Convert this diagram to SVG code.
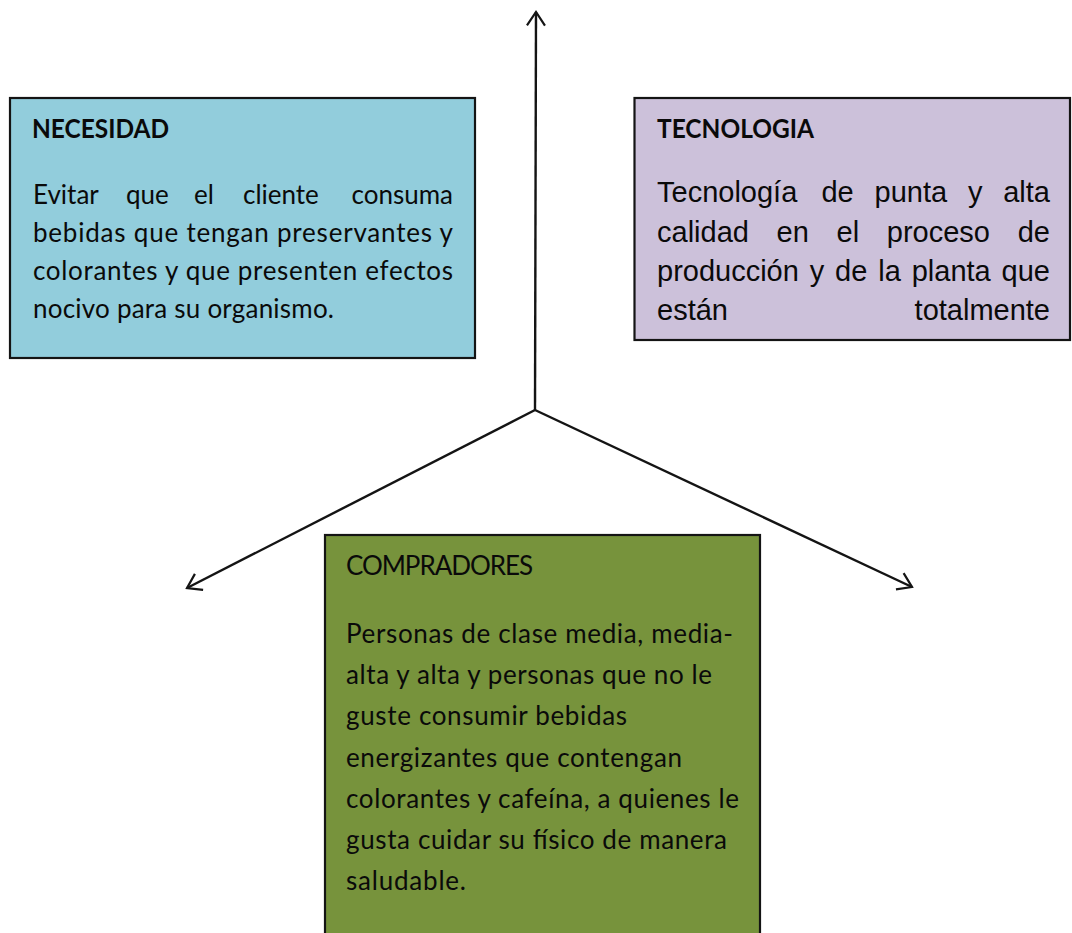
<svg xmlns="http://www.w3.org/2000/svg" width="1072" height="933" viewBox="0 0 1072 933">
<style>
.box{stroke:#141414;stroke-width:2.2}
.cal{font-family:Lato,"Open Sans","Liberation Sans",sans-serif;font-size:26px;fill:#0a0a0a}
.calb{font-family:Lato,"Open Sans","Liberation Sans",sans-serif;font-size:26px;font-weight:bold;fill:#0a0a0a}
.ari{font-family:"Liberation Sans",Arial,sans-serif;font-size:29px;fill:#0a0a0a}
.con{stroke:#141414;stroke-width:2.4;fill:none}
</style>
<defs>
<marker id="arr" markerUnits="userSpaceOnUse" markerWidth="20" markerHeight="24" viewBox="-16 -12 20 24" refX="0" refY="0" orient="auto">
<path d="M-13.5,-9 L0,0 L-13.5,9" fill="none" stroke="#141414" stroke-width="2.2"/>
</marker>
</defs>
<rect width="1072" height="933" fill="#ffffff"/>
<g id="connectors">
<line class="con" x1="535" y1="410" x2="536" y2="12" marker-end="url(#arr)"/>
<line class="con" x1="535" y1="410" x2="187" y2="588" marker-end="url(#arr)"/>
<line class="con" x1="535" y1="410" x2="912" y2="587" marker-end="url(#arr)"/>
</g>
<g id="necesidad">
<rect class="box" x="10" y="98" width="465" height="260" fill="#92CDDC"/>
<text class="calb" x="32" y="138" textLength="137" lengthAdjust="spacingAndGlyphs">NECESIDAD</text>
<text class="cal" y="204"><tspan x="33">Evitar</tspan><tspan x="126">que</tspan><tspan x="194">el</tspan><tspan x="243">cliente</tspan></text>
<text class="cal" x="453" y="204" text-anchor="end">consuma</text>
<text class="cal" x="33" y="242" textLength="420" lengthAdjust="spacing">bebidas que tengan preservantes y</text>
<text class="cal" x="33" y="280" textLength="420" lengthAdjust="spacing">colorantes y que presenten efectos</text>
<text class="cal" x="33" y="318" textLength="301" lengthAdjust="spacing">nocivo para su organismo.</text>
</g>
<g id="tecnologia">
<rect class="box" x="634.5" y="98" width="435.5" height="242" fill="#CCC1DA"/>
<text class="calb" x="657" y="138" textLength="157" lengthAdjust="spacingAndGlyphs">TECNOLOGIA</text>
<text class="ari" y="202"><tspan x="657">Tecnología</tspan><tspan x="821.4">de</tspan><tspan x="874.5">punta</tspan><tspan x="968">y</tspan></text>
<text class="ari" x="1050" y="202" text-anchor="end">alta</text>
<text class="ari" y="242"><tspan x="657">calidad</tspan><tspan x="776.6">en</tspan><tspan x="836.5">el</tspan><tspan x="886.8">proceso</tspan></text>
<text class="ari" x="1050" y="242" text-anchor="end">de</text>
<text class="ari" y="281"><tspan x="657">producción</tspan><tspan x="809.7">y</tspan><tspan x="835.1">de</tspan><tspan x="878.2">la</tspan><tspan x="911.7">planta</tspan></text>
<text class="ari" x="1050" y="281" text-anchor="end">que</text>
<text class="ari" x="657" y="320">están</text>
<text class="ari" x="1050" y="320" text-anchor="end">totalmente</text>
</g>
<g id="compradores">
<rect class="box" x="325" y="535" width="435" height="410" fill="#77933C"/>
<text class="cal" x="346" y="575" textLength="187" lengthAdjust="spacing">COMPRADORES</text>
<text class="cal" x="346" y="643" textLength="387" lengthAdjust="spacing">Personas de clase media, media-</text>
<text class="cal" x="346" y="684" textLength="366" lengthAdjust="spacing">alta y alta y personas que no le</text>
<text class="cal" x="346" y="725" textLength="281" lengthAdjust="spacing">guste consumir bebidas</text>
<text class="cal" x="346" y="767" textLength="336" lengthAdjust="spacing">energizantes que contengan</text>
<text class="cal" x="346" y="808" textLength="393" lengthAdjust="spacing">colorantes y cafeína, a quienes le</text>
<text class="cal" x="346" y="849" textLength="381" lengthAdjust="spacing">gusta cuidar su físico de manera</text>
<text class="cal" x="346" y="890" textLength="120" lengthAdjust="spacing">saludable.</text>
</g>
</svg>
